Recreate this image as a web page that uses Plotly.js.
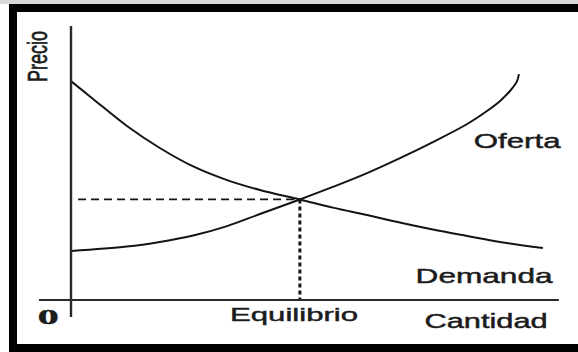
<!DOCTYPE html>
<html>
<head>
<meta charset="utf-8">
<script src="https://cdn.plot.ly/plotly-3.0.1.min.js"></script>
<style>
  html, body { margin: 0; padding: 0; background: #ffffff; }
  #chart { width: 578px; height: 352px; }
  text.annotation-text { stroke: #1c1c1c; stroke-width: 0.45px; }
</style>
</head>
<body>
<div id="chart"></div>
<script>
// ---- Data (Cantidad, Precio units) ----
var demandQ = [0, 0.47, 1.19, 1.89, 2.60, 3.32, 4.02, 4.87, 5.57, 6.30, 7.00, 7.70, 8.43, 9.13, 10.04];
var demandP = [9.95, 9.14, 7.91, 6.91, 6.07, 5.45, 5.00, 4.57, 4.20, 3.86, 3.52, 3.20, 2.91, 2.64, 2.36];

var supplyQ = [0, 1.19, 1.89, 2.60, 3.32, 4.02, 4.87, 5.57, 6.30, 7.00, 7.70, 8.43, 8.85, 9.13, 9.34, 9.49, 9.53];
var supplyP = [2.23, 2.43, 2.64, 2.93, 3.36, 3.91, 4.57, 5.14, 5.77, 6.45, 7.18, 8.00, 8.59, 9.05, 9.50, 9.95, 10.27];

var eqQ = [4.87];
var eqP = [4.57];
var guideStartQ = [0.15];

var labelTexts = ["Precio", "Oferta", "Demanda", "0", "Equilibrio", "Cantidad"];
var labelQ = [-0.70, 9.51, 8.81, -0.47, 4.74, 8.83];
var labelP = [11.05, 7.27, 1.09, -0.77, -0.64, -0.95];

// axis line extents (data units)
var xAxisSpan = [-0.68, 10.38];
var yAxisSpan = [-0.77, 12.45];

// ---- styling ----
var ink = "#141414";
var labelSizes = [18, 21, 20, 21, 19, 20];
var labelFamilies = ["Liberation Sans", "Liberation Sans", "Liberation Sans", "Liberation Serif", "Liberation Sans", "Liberation Sans"];
var labelWeights = ["normal", "normal", "normal", "bold", "normal", "normal"];
var labelAngles = [-90, 0, 0, 0, 0, 0];
var labelStretch = [1.5, 1.49, 1.58, 2.0, 1.64, 1.54];

var traces = [
  { x: demandQ, y: demandP, mode: "lines", line: { color: ink, width: 2, shape: "spline", smoothing: 1 }, hoverinfo: "skip", name: "Demanda" },
  { x: supplyQ, y: supplyP, mode: "lines", line: { color: ink, width: 2, shape: "spline", smoothing: 1 }, hoverinfo: "skip", name: "Oferta" },
  { x: [guideStartQ[0], eqQ[0]], y: [eqP[0], eqP[0]], mode: "lines", line: { color: ink, width: 1.8, dash: "8px,5px" }, hoverinfo: "skip" },
  { x: [eqQ[0], eqQ[0]], y: [eqP[0], 0], mode: "lines", line: { color: "#151515", width: 3, dash: "4px,3px" }, hoverinfo: "skip" }
];

var annotations = labelTexts.map(function (t, i) {
  return {
    text: t, x: labelQ[i], y: labelP[i], xref: "x", yref: "y",
    showarrow: false, xanchor: "center", yanchor: "middle",
    textangle: labelAngles[i],
    font: { family: labelFamilies[i], size: labelSizes[i], color: "#1c1c1c", weight: labelWeights[i] }
  };
});

var shapes = [
  // axes
  { type: "line", xref: "x", yref: "y", x0: xAxisSpan[0], x1: xAxisSpan[1], y0: 0, y1: 0, line: { color: "#2a2a2a", width: 2 } },
  { type: "line", xref: "x", yref: "y", x0: 0, x1: 0, y0: yAxisSpan[0], y1: yAxisSpan[1], line: { color: "#2a2a2a", width: 2.4 } },
  // frame
  { type: "rect", xref: "paper", yref: "paper", x0: 0, x1: 1, y0: 1 - 4/352, y1: 1, fillcolor: "#d8d8d8", line: { width: 0 }, layer: "above" },
  { type: "rect", xref: "paper", yref: "paper", x0: 9/578, x1: 1, y0: 1 - 12/352, y1: 1 - 4/352, fillcolor: "#000", line: { width: 0 }, layer: "above" },
  { type: "rect", xref: "paper", yref: "paper", x0: 9/578, x1: 17/578, y0: 0, y1: 1 - 4/352, fillcolor: "#000", line: { width: 0 }, layer: "above" },
  { type: "rect", xref: "paper", yref: "paper", x0: 9/578, x1: 1, y0: 0, y1: 8/352, fillcolor: "#000", line: { width: 0 }, layer: "above" }
];

var layout = {
  width: 578, height: 352,
  margin: { l: 0, r: 0, t: 0, b: 0, pad: 0 },
  paper_bgcolor: "#ffffff", plot_bgcolor: "#ffffff",
  showlegend: false,
  xaxis: { range: [-71/47, -71/47 + 578/47], visible: false, fixedrange: true },
  yaxis: { range: [-52/22, 300/22], visible: false, fixedrange: true },
  shapes: shapes,
  annotations: annotations
};

Plotly.newPlot("chart", traces, layout, { staticPlot: true, displayModeBar: false }).then(function (gd) {
  var groups = gd.querySelectorAll("g.annotation");
  groups.forEach(function (g) {
    var idx = parseInt(g.getAttribute("data-index"), 10);
    var t = g.querySelector("text.annotation-text");
    if (!t || isNaN(idx)) return;
    var s = labelStretch[idx];
    var bb = t.getBBox();
    if (labelAngles[idx] !== 0) {
      var cy = bb.y + bb.height / 2;
      t.setAttribute("transform", "translate(0," + cy + ") scale(1," + s + ") translate(0," + (-cy) + ")");
    } else {
      var cx = bb.x + bb.width / 2;
      t.setAttribute("transform", "translate(" + cx + ",0) scale(" + s + ",1) translate(" + (-cx) + ",0)");
    }
  });
});
</script>
</body>
</html>
